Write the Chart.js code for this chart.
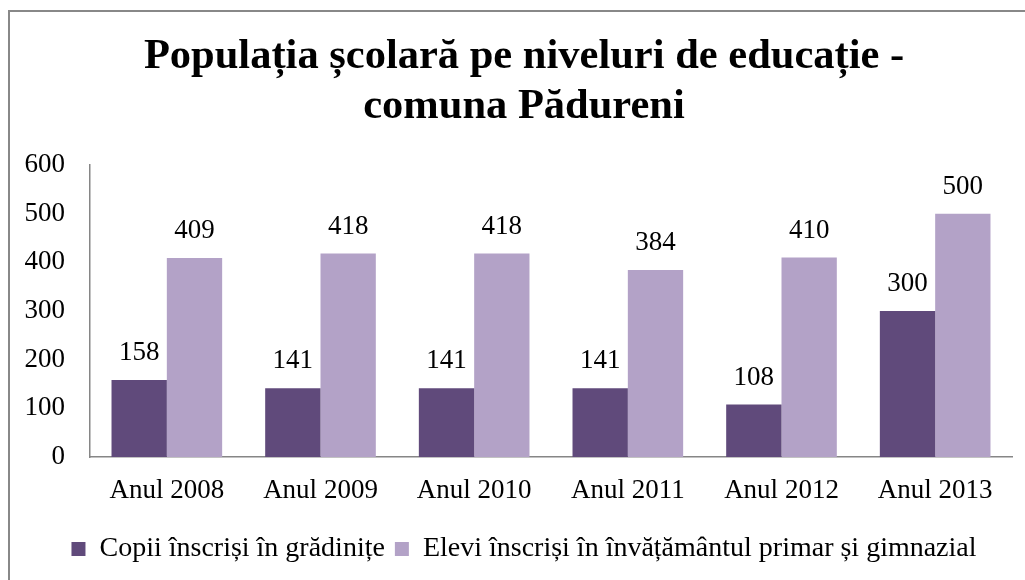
<!DOCTYPE html>
<html>
<head>
<meta charset="utf-8">
<script src="https://cdn.jsdelivr.net/npm/chart.js@4"></script>
<style>
  html, body { margin: 0; padding: 0; background: #fff; overflow: hidden; }
  #wrap { width: 1025px; height: 580px; }
</style>
</head>
<body>
<div id="wrap"><canvas id="myChart" width="1025" height="580"></canvas></div>
<script>
const years = ['Anul 2008', 'Anul 2009', 'Anul 2010', 'Anul 2011', 'Anul 2012', 'Anul 2013'];
const copiiGradinite = [158, 141, 141, 141, 108, 300];
const eleviPrimarGimnazial = [409, 418, 418, 384, 410, 500];
const yTicks = [0, 100, 200, 300, 400, 500, 600];

const serif = '"Liberation Serif", "Times New Roman", serif';

// frame + white background
const framePlugin = {
    id: 'frame',
    beforeDraw(chart) {
        const c = chart.ctx;
        c.save();
        c.fillStyle = '#fff';
        c.fillRect(0, 0, chart.width, chart.height);
        c.strokeStyle = '#888';
        c.lineWidth = 2;
        c.strokeRect(9, 11, chart.width + 20, chart.height + 20);
        c.restore();
    }
};

// value labels above bars
const valueLabels = {
    id: 'valueLabels',
    afterDatasetsDraw(chart) {
        const c = chart.ctx;
        c.save();
        c.font = '27px ' + serif;
        c.fillStyle = '#000';
        c.textAlign = 'center';
        c.textBaseline = 'middle';
        chart.data.datasets.forEach((ds, i) => {
            chart.getDatasetMeta(i).data.forEach((bar, j) => {
                c.fillText(ds.data[j], bar.x, bar.y - 27);
            });
        });
        c.restore();
    }
};

const ctx = document.getElementById('myChart');

new Chart(ctx, {
    type: 'bar',
    data: {
        labels: years,
        datasets: [{
            label: 'Copii înscriși în grădinițe',
            data: copiiGradinite,
            backgroundColor: '#604A7B',
            categoryPercentage: 0.72,
            barPercentage: 1,
        }, {
            label: 'Elevi înscriși în învățământul primar și gimnazial',
            data: eleviPrimarGimnazial,
            backgroundColor: '#B3A2C7',
            categoryPercentage: 0.72,
            barPercentage: 1,
        }]
    },
    options: {
        responsive: false,
        animation: false,
        layout: {
            padding: { left: 24, right: 1, top: 0, bottom: 7 }
        },
        scales: {
            y: {
                min: 0,
                max: 600,
                afterBuildTicks(scale) {
                    scale.ticks = yTicks.map(v => ({ value: v }));
                },
                afterFit(scale) {
                    scale.width = 66;
                },
                grid: { display: false, drawTicks: false },
                border: { display: true, color: '#868686', width: 1.5 },
                ticks: {
                    padding: 25,
                    color: '#000',
                    font: { family: serif, size: 27 }
                }
            },
            // empty right axis, only to keep the title centred like the original
            yRight: {
                position: 'right',
                min: 0,
                max: 600,
                afterFit(scale) {
                    scale.width = 12;
                },
                grid: { display: false, drawTicks: false },
                border: { display: false },
                ticks: { display: false }
            },
            x: {
                afterFit(scale) {
                    scale.height = 68;
                },
                grid: { display: false, drawTicks: false },
                border: { display: true, color: '#868686', width: 1.5 },
                ticks: {
                    padding: 18,
                    color: '#000',
                    maxRotation: 0,
                    font: { family: serif, size: 27 }
                }
            }
        },
        plugins: {
            title: {
                display: true,
                text: ['Populația școlară pe niveluri de educație -', 'comuna Pădureni'],
                color: '#000',
                font: { family: serif, size: 42.5, weight: 'bold', lineHeight: 1.176 },
                padding: { top: 32, bottom: 33 }
            },
            legend: {
                position: 'bottom',
                labels: {
                    color: '#000',
                    boxWidth: 14,
                    boxHeight: 14,
                    padding: 10,
                    font: { family: serif, size: 28 }
                }
            },
            tooltip: { enabled: false }
        }
    },
    plugins: [framePlugin, valueLabels]
});
</script>
</body>
</html>
